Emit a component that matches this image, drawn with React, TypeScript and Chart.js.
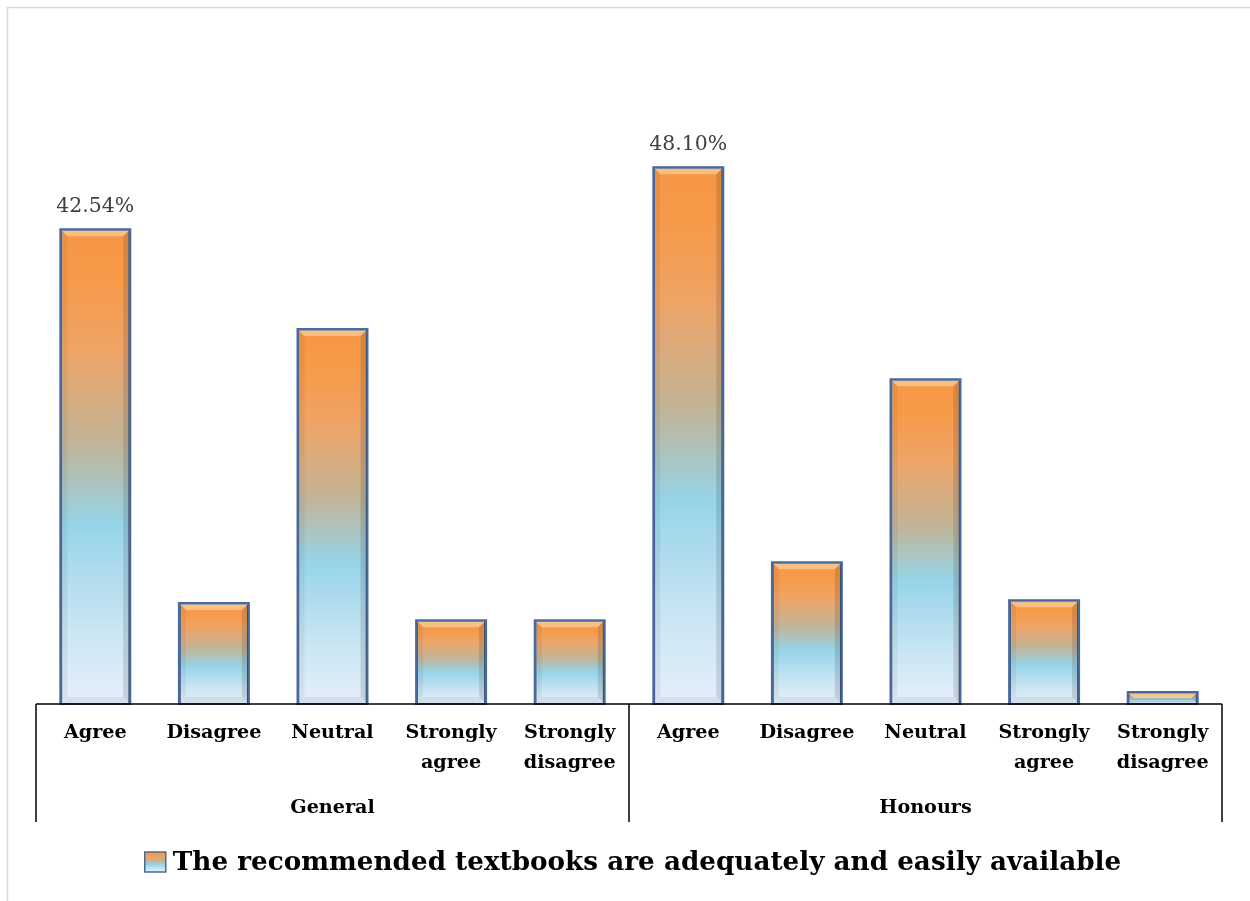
import React, { useEffect, useRef } from "react";
import { Chart, registerables } from "chart.js";

Chart.register(...registerables);

// ---------- data ----------
const categories: string[] = [
  "Agree", "Disagree", "Neutral", "Strongly agree", "Strongly disagree",
  "Agree", "Disagree", "Neutral", "Strongly agree", "Strongly disagree",
];
const categoryLines: string[][] = [
  ["Agree"], ["Disagree"], ["Neutral"], ["Strongly", "agree"], ["Strongly", "disagree"],
  ["Agree"], ["Disagree"], ["Neutral"], ["Strongly", "agree"], ["Strongly", "disagree"],
];
const groups: string[] = ["General", "Honours"];
const groupSizes: number[] = [5, 5];
const values: number[] = [42.54, 9.05, 33.6, 7.5, 7.5, 48.1, 12.7, 29.1, 9.3, 1.05];
const valueLabels: string[] = ["42.54%", "", "", "", "", "48.10%", "", "", "", ""];
const seriesName = "The recommended textbooks are adequately and easily available";

const SERIF = "'DejaVu Serif', 'Liberation Serif', serif";

function fitSize(ctx: CanvasRenderingContext2D, text: string, weight: string, target: number) {
  ctx.font = `${weight} 100px ${SERIF}`;
  const w = ctx.measureText(text).width;
  return (100 * target) / w;
}

function barGradient(ctx: CanvasRenderingContext2D, top: number, bottom: number) {
  const g = ctx.createLinearGradient(0, bottom, 0, top);
  g.addColorStop(0, "#E4EFFA");
  g.addColorStop(0.15, "#CCE6F4");
  g.addColorStop(0.38, "#96D4E8");
  g.addColorStop(0.55, "#C2B497");
  g.addColorStop(0.75, "#EFA466");
  g.addColorStop(0.9, "#F79A48");
  g.addColorStop(1, "#F79646");
  return g;
}

const framePlugin = {
  id: "frame",
  beforeDraw(chart: any) {
    const ctx = chart.ctx as CanvasRenderingContext2D;
    ctx.save();
    ctx.fillStyle = "#ffffff";
    ctx.fillRect(0, 0, chart.width, chart.height);
    ctx.strokeStyle = "#D9D9D9";
    ctx.lineWidth = 1.5;
    ctx.beginPath();
    ctx.moveTo(7.5, chart.height);
    ctx.lineTo(7.5, 7.5);
    ctx.lineTo(chart.width, 7.5);
    ctx.stroke();
    ctx.restore();
  },
};

const shadowPlugin = {
  id: "barShadow",
  beforeDatasetsDraw(chart: any) {
    const ctx = chart.ctx as CanvasRenderingContext2D;
    ctx.save();
    ctx.shadowColor = "rgba(0,0,0,0.3)";
    ctx.shadowBlur = 4;
    ctx.shadowOffsetX = 2;
    ctx.shadowOffsetY = 1;
  },
  afterDatasetsDraw(chart: any) {
    const ctx = chart.ctx as CanvasRenderingContext2D;
    ctx.restore();
    const meta = chart.getDatasetMeta(0);
    meta.data.forEach((bar: any) => {
      const { x, y, base, width } = bar.getProps(["x", "y", "base", "width"], true);
      const l = x - width / 2 + 1;
      const r = x + width / 2 - 1;
      const t = y + 1;
      const b = base - 1;
      const bv = Math.min(6, (b - t) / 2);
      ctx.save();
      // top highlight
      ctx.fillStyle = "rgba(255,240,200,0.45)";
      ctx.beginPath();
      ctx.moveTo(l, t); ctx.lineTo(r, t); ctx.lineTo(r - bv, t + bv); ctx.lineTo(l + bv, t + bv); ctx.closePath();
      ctx.fill();
      // left
      ctx.fillStyle = "rgba(0,0,0,0.05)";
      ctx.beginPath();
      ctx.moveTo(l, t); ctx.lineTo(l + bv, t + bv); ctx.lineTo(l + bv, b - bv); ctx.lineTo(l, b); ctx.closePath();
      ctx.fill();
      // right
      ctx.fillStyle = "rgba(0,0,0,0.12)";
      ctx.beginPath();
      ctx.moveTo(r, t); ctx.lineTo(r - bv, t + bv); ctx.lineTo(r - bv, b - bv); ctx.lineTo(r, b); ctx.closePath();
      ctx.fill();
      // bottom
      ctx.fillStyle = "rgba(0,0,0,0.06)";
      ctx.beginPath();
      ctx.moveTo(l, b); ctx.lineTo(l + bv, b - bv); ctx.lineTo(r - bv, b - bv); ctx.lineTo(r, b); ctx.closePath();
      ctx.fill();
      // border
      ctx.strokeStyle = "#4A6A9C";
      ctx.lineWidth = 2;
      ctx.strokeRect(x - width / 2, y, width, base - y);
      ctx.restore();
    });
  },
};

const annotationsPlugin = {
  id: "annotations",
  afterDraw(chart: any) {
    const ctx = chart.ctx as CanvasRenderingContext2D;
    const area = chart.chartArea;
    const xs = chart.scales.x;
    const meta = chart.getDatasetMeta(0);
    ctx.save();

    // value labels
    const vSize = fitSize(ctx, "42.54%", "normal", 78);
    ctx.font = `normal ${vSize}px ${SERIF}`;
    ctx.fillStyle = "#404040";
    ctx.textAlign = "center";
    ctx.textBaseline = "middle";
    meta.data.forEach((bar: any, i: number) => {
      if (!valueLabels[i]) return;
      ctx.fillText(valueLabels[i], bar.x, bar.y - 23);
    });

    // axis line
    ctx.strokeStyle = "#000000";
    ctx.lineWidth = 1.5;
    ctx.beginPath();
    ctx.moveTo(area.left, area.bottom);
    ctx.lineTo(area.right, area.bottom);
    ctx.stroke();

    // category labels
    const cSize = fitSize(ctx, "Disagree", "bold", 95);
    ctx.font = `bold ${cSize}px ${SERIF}`;
    ctx.fillStyle = "#000000";
    categoryLines.forEach((lines, i) => {
      const cx = xs.getPixelForValue(i);
      lines.forEach((ln, j) => {
        ctx.fillText(ln, cx, area.bottom + 29 + j * 30);
      });
    });

    // group separators and labels
    const bounds: number[] = [area.left];
    let idx = 0;
    groupSizes.forEach((n) => {
      idx += n;
      if (idx < categories.length) {
        bounds.push((xs.getPixelForValue(idx - 1) + xs.getPixelForValue(idx)) / 2);
      } else {
        bounds.push(area.right);
      }
    });
    ctx.beginPath();
    bounds.forEach((bx) => {
      ctx.moveTo(bx, area.bottom);
      ctx.lineTo(bx, area.bottom + 118);
    });
    ctx.stroke();
    groups.forEach((g, i) => {
      ctx.fillText(g, (bounds[i] + bounds[i + 1]) / 2, area.bottom + 104);
    });

    // legend
    const lSize = fitSize(ctx, seriesName, "bold", 949);
    ctx.font = `bold ${lSize}px ${SERIF}`;
    const tw = ctx.measureText(seriesName).width;
    const total = 21 + 7 + tw;
    const cxl = (area.left + area.right) / 2 + 4;
    const sx = cxl - total / 2;
    const ly = 862;
    const mg = barGradient(ctx, ly - 10, ly + 10);
    ctx.fillStyle = mg;
    ctx.fillRect(sx, ly - 10, 21, 20);
    ctx.strokeStyle = "#4A6A9C";
    ctx.lineWidth = 1.5;
    ctx.strokeRect(sx, ly - 10, 21, 20);
    ctx.fillStyle = "#000000";
    ctx.textAlign = "left";
    ctx.fillText(seriesName, sx + 28, ly + 1);

    ctx.restore();
  },
};

export default function App() {
  const ref = useRef<HTMLCanvasElement | null>(null);
  useEffect(() => {
    if (!ref.current) return;
    const chart = new Chart(ref.current, {
      type: "bar",
      data: {
        labels: categories,
        datasets: [
          {
            label: seriesName,
            data: values,
            backgroundColor: (c: any) => {
              const ch = c.chart;
              if (!ch.chartArea || c.type !== "data") return "#96D4E8";
              const top = ch.scales.y.getPixelForValue(c.raw);
              const bottom = ch.scales.y.getPixelForValue(0);
              return barGradient(ch.ctx, top, bottom);
            },
            borderColor: "#4A6A9C",
            borderWidth: 2,
            barPercentage: 0.59,
            categoryPercentage: 1,
            minBarLength: 12,
          },
        ],
      },
      options: {
        animation: false,
        responsive: false,
        layout: { padding: { left: 36, right: 28, top: 146, bottom: 197 } },
        scales: {
          x: { display: false },
          y: { display: false, min: 0, max: 50 },
        },
        plugins: {
          legend: { display: false },
          tooltip: { enabled: false },
        },
      },
      plugins: [framePlugin, shadowPlugin, annotationsPlugin],
    });
    return () => chart.destroy();
  }, []);
  return (
    <div style={{ position: "fixed", left: 0, top: 0, width: 1250, height: 901, background: "#fff" }}>
      <canvas ref={ref} width={1250} height={901} />
    </div>
  );
}
